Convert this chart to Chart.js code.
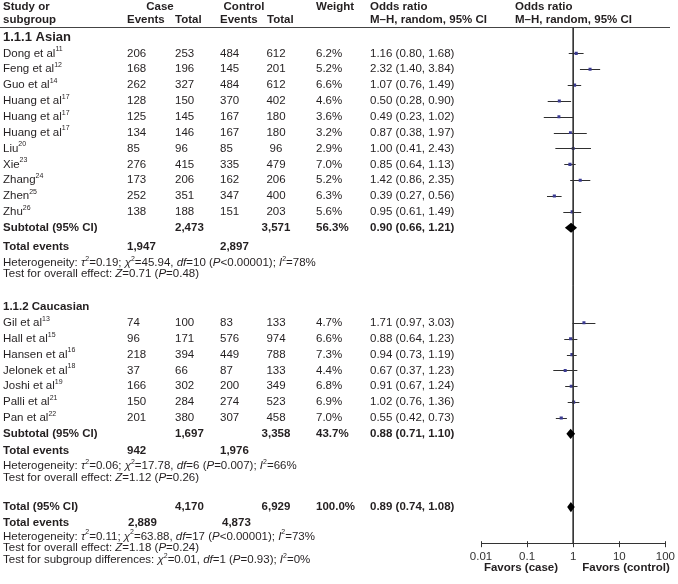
<!DOCTYPE html>
<html lang="en">
<head>
    <meta charset="UTF-8">
    <title>Forest plot: odds ratio by ethnic subgroup</title>
    <script src="https://cdn.jsdelivr.net/npm/chart.js"></script>
    <style>
        html, body { margin: 0; padding: 0; background: #fff; }
        canvas { display: block; }
    </style>
</head>
<body>
<canvas id="forest" width="678" height="584"></canvas>
<script>
    // ---- values ----
    const subgroupNames = ['1.1.1 Asian', '1.1.2 Caucasian'];

    const asianStudies = ['Dong et al^11^', 'Feng et al^12^', 'Guo et al^14^', 'Huang et al^17^', 'Huang et al^17^',
        'Huang et al^17^', 'Liu^20^', 'Xie^23^', 'Zhang^24^', 'Zhen^25^', 'Zhu^26^'];
    const asianCaseEvents = [206, 168, 262, 128, 125, 134, 85, 276, 173, 252, 138];
    const asianCaseTotal = [253, 196, 327, 150, 145, 146, 96, 415, 206, 351, 188];
    const asianCtrlEvents = [484, 145, 484, 370, 167, 167, 85, 335, 162, 347, 151];
    const asianCtrlTotal = [612, 201, 612, 402, 180, 180, 96, 479, 206, 400, 203];
    const asianWeight = [6.2, 5.2, 6.6, 4.6, 3.6, 3.2, 2.9, 7.0, 5.2, 6.3, 5.6];
    const asianOR = [1.16, 2.32, 1.07, 0.50, 0.49, 0.87, 1.00, 0.85, 1.42, 0.39, 0.95];
    const asianLow = [0.80, 1.40, 0.76, 0.28, 0.23, 0.38, 0.41, 0.64, 0.86, 0.27, 0.61];
    const asianHigh = [1.68, 3.84, 1.49, 0.90, 1.02, 1.97, 2.43, 1.13, 2.35, 0.56, 1.49];

    const caucStudies = ['Gil et al^13^', 'Hall et al^15^', 'Hansen et al^16^', 'Jelonek et al^18^', 'Joshi et al^19^',
        'Palli et al^21^', 'Pan et al^22^'];
    const caucCaseEvents = [74, 96, 218, 37, 166, 150, 201];
    const caucCaseTotal = [100, 171, 394, 66, 302, 284, 380];
    const caucCtrlEvents = [83, 576, 449, 87, 200, 274, 307];
    const caucCtrlTotal = [133, 974, 788, 133, 349, 523, 458];
    const caucWeight = [4.7, 6.6, 7.3, 4.4, 6.8, 6.9, 7.0];
    const caucOR = [1.71, 0.88, 0.94, 0.67, 0.91, 1.02, 0.55];
    const caucLow = [0.97, 0.64, 0.73, 0.37, 0.67, 0.76, 0.42];
    const caucHigh = [3.03, 1.23, 1.19, 1.23, 1.24, 1.36, 0.73];

    // subtotals: [Asian, Caucasian]
    const subtotalCaseTotal = [2473, 1697];
    const subtotalCtrlTotal = [3571, 3358];
    const subtotalWeight = [56.3, 43.7];
    const subtotalOR = [0.90, 0.88];
    const subtotalLow = [0.66, 0.71];
    const subtotalHigh = [1.21, 1.10];
    const subtotalCaseEvents = [1947, 942];
    const subtotalCtrlEvents = [2897, 1976];
    const subtotalHeterogeneity = [
        'Heterogeneity: _τ_^2^=0.19; _χ_^2^=45.94, _df_=10 (_P_<0.00001); _I_^2^=78%',
        'Heterogeneity: _τ_^2^=0.06; _χ_^2^=17.78, _df_=6 (_P_=0.007); _I_^2^=66%'
    ];
    const subtotalEffect = [
        'Test for overall effect: _Z_=0.71 (_P_=0.48)',
        'Test for overall effect: _Z_=1.12 (_P_=0.26)'
    ];

    // overall
    const totalCaseTotal = 4170;
    const totalCtrlTotal = 6929;
    const totalWeight = 100.0;
    const totalOR = 0.89;
    const totalLow = 0.74;
    const totalHigh = 1.08;
    const totalCaseEvents = 2889;
    const totalCtrlEvents = 4873;
    const totalHeterogeneity = 'Heterogeneity: _τ_^2^=0.11; _χ_^2^=63.88, _df_=17 (_P_<0.00001); _I_^2^=73%';
    const totalEffect = 'Test for overall effect: _Z_=1.18 (_P_=0.24)';
    const subgroupDiffText = 'Test for subgroup differences: _χ_^2^=0.01, _df_=1 (_P_=0.93); _I_^2^=0%';

    const axisTicks = [0.01, 0.1, 1, 10, 100];
    const axisTickLabels = ['0.01', '0.1', '1', '10', '100'];
    const favorsLabels = ['Favors (case)', 'Favors (control)'];

    // ---- layout ----
    const FONT = '"Liberation Sans", Arial, Helvetica, sans-serif';
    const TEXT = '#231f20';
    const BODY = 11.5;
    const Y_TOP = -1.6, Y_BOTTOM = 30.9;
    const COL = { study: 3, caseEv: 127, caseTot: 175, ctrlEv: 220, ctrlTot: 276, weight: 316, or: 370, plotHead: 515 };
    // row offsets below each subtotal: total events, heterogeneity, overall effect
    const FOOT = [[1.2, 2.22, 2.92], [1.08, 2.03, 2.75]];

    const fmtInt = v => v.toLocaleString('en-US');
    const fmtOR = (o, l, h) => `${o.toFixed(2)} (${l.toFixed(2)}, ${h.toFixed(2)})`;

    function buildGroup(i, startRow, names, ce, ct, de, dt, w, o, lo, hi) {
        const studies = names.map((n, k) => ({
            row: startRow + 1 + k, name: n, ce: ce[k], ct: ct[k], de: de[k], dt: dt[k],
            w: w[k], or: o[k], lo: lo[k], hi: hi[k]
        }));
        return {
            name: subgroupNames[i], headRow: startRow, studies: studies,
            subRow: startRow + 1 + names.length, i: i
        };
    }

    const groups = [
        buildGroup(0, -1, asianStudies, asianCaseEvents, asianCaseTotal, asianCtrlEvents, asianCtrlTotal,
            asianWeight, asianOR, asianLow, asianHigh),
        buildGroup(1, 16, caucStudies, caucCaseEvents, caucCaseTotal, caucCtrlEvents, caucCtrlTotal,
            caucWeight, caucOR, caucLow, caucHigh)
    ];
    const totalRow = 28.62;
    const allStudies = groups.flatMap(g => g.studies);

    // tiny markup: _italic_  ^superscript^
    function splitMarkup(s) {
        return s.split(/(_[^_]+_|\^[^^]+\^)/).filter(Boolean).map(p => {
            if (p[0] === '_') return { t: p.slice(1, -1), it: true };
            if (p[0] === '^') return { t: p.slice(1, -1), sup: true };
            return { t: p };
        });
    }

    function drawText(ctx, s, x, y, opts) {
        opts = opts || {};
        const size = opts.size || BODY;
        const parts = splitMarkup(String(s));
        const fontFor = p => `${p.it ? 'italic ' : ''}${opts.bold ? 'bold ' : ''}${p.sup ? Math.round(size * 0.64) : size}px ${FONT}`;
        let total = 0;
        parts.forEach(p => { ctx.font = fontFor(p); p.w = ctx.measureText(p.t).width; total += p.w; });
        let cx = opts.align === 'center' ? x - total / 2 : x;
        ctx.textBaseline = 'middle';
        ctx.textAlign = 'left';
        ctx.fillStyle = TEXT;
        parts.forEach(p => {
            ctx.font = fontFor(p);
            ctx.fillText(p.t, cx, p.sup ? y - size * 0.36 : y);
            cx += p.w;
        });
    }

    function diamond(ctx, x, y, row, o, lo, hi) {
        const py = y.getPixelForValue(row);
        const h = y.getPixelForValue(row + 0.32) - py;
        ctx.beginPath();
        ctx.moveTo(x.getPixelForValue(lo), py);
        ctx.lineTo(x.getPixelForValue(o), py - h);
        ctx.lineTo(x.getPixelForValue(hi), py);
        ctx.lineTo(x.getPixelForValue(o), py + h);
        ctx.closePath();
        ctx.fill();
    }

    const forestPlugin = {
        id: 'forest',
        beforeDatasetsDraw(chart) {
            const { ctx, scales: { x, y } } = chart;
            ctx.save();
            ctx.strokeStyle = '#2f2f2f';
            ctx.lineWidth = 1;
            allStudies.forEach(s => {
                const py = Math.round(y.getPixelForValue(s.row)) + 0.5;
                ctx.beginPath();
                ctx.moveTo(x.getPixelForValue(s.lo), py);
                ctx.lineTo(x.getPixelForValue(s.hi), py);
                ctx.stroke();
            });
            ctx.restore();
        },
        afterDatasetsDraw(chart) {
            const { ctx, scales: { x, y } } = chart;
            ctx.save();
            ctx.fillStyle = '#000';
            groups.forEach(g => diamond(ctx, x, y, g.subRow, subtotalOR[g.i], subtotalLow[g.i], subtotalHigh[g.i]));
            diamond(ctx, x, y, totalRow, totalOR, totalLow, totalHigh);
            ctx.restore();
        },
        afterDraw(chart) {
            const { ctx, chartArea, scales: { x, y } } = chart;
            ctx.save();

            // header rule
            ctx.strokeStyle = '#444';
            ctx.lineWidth = 1;
            ctx.beginPath();
            ctx.moveTo(0, chartArea.top - 0.5);
            ctx.lineTo(670, chartArea.top - 0.5);
            ctx.stroke();

            // ticks poke a little above the axis line
            ctx.strokeStyle = '#333';
            axisTicks.forEach(v => {
                const px = Math.round(x.getPixelForValue(v)) + 0.5;
                ctx.beginPath();
                ctx.moveTo(px, chartArea.bottom - 2);
                ctx.lineTo(px, chartArea.bottom);
                ctx.stroke();
            });

            // column headers
            const h1 = chartArea.top - 21, h2 = chartArea.top - 8;
            const B = { bold: true };
            drawText(ctx, 'Study or', COL.study, h1, B);
            drawText(ctx, 'subgroup', COL.study, h2, B);
            drawText(ctx, 'Case', 160, h1, { bold: true, align: 'center' });
            drawText(ctx, 'Control', 244, h1, { bold: true, align: 'center' });
            drawText(ctx, 'Events', COL.caseEv, h2, B);
            drawText(ctx, 'Total', COL.caseTot, h2, B);
            drawText(ctx, 'Events', COL.ctrlEv, h2, B);
            drawText(ctx, 'Total', 267, h2, B);
            drawText(ctx, 'Weight', COL.weight, h1, B);
            drawText(ctx, 'Odds ratio', COL.or, h1, B);
            drawText(ctx, 'M–H, random, 95% CI', COL.or, h2, B);
            drawText(ctx, 'Odds ratio', COL.plotHead, h1, B);
            drawText(ctx, 'M–H, random, 95% CI', COL.plotHead, h2, B);

            const py = r => y.getPixelForValue(r);

            groups.forEach(g => {
                drawText(ctx, g.name, COL.study, py(g.headRow), { bold: true, size: g.i === 0 ? 13 : 11.5 });
                g.studies.forEach(s => {
                    const yy = py(s.row);
                    drawText(ctx, s.name, COL.study, yy);
                    drawText(ctx, s.ce, COL.caseEv, yy);
                    drawText(ctx, s.ct, COL.caseTot, yy);
                    drawText(ctx, s.de, COL.ctrlEv, yy);
                    drawText(ctx, s.dt, COL.ctrlTot, yy, { align: 'center' });
                    drawText(ctx, s.w.toFixed(1) + '%', COL.weight, yy);
                    drawText(ctx, fmtOR(s.or, s.lo, s.hi), COL.or, yy);
                });
                const ys = py(g.subRow);
                const off = FOOT[g.i];
                drawText(ctx, 'Subtotal (95% CI)', COL.study, ys, B);
                drawText(ctx, fmtInt(subtotalCaseTotal[g.i]), COL.caseTot, ys, B);
                drawText(ctx, fmtInt(subtotalCtrlTotal[g.i]), COL.ctrlTot, ys, { bold: true, align: 'center' });
                drawText(ctx, subtotalWeight[g.i].toFixed(1) + '%', COL.weight, ys, B);
                drawText(ctx, fmtOR(subtotalOR[g.i], subtotalLow[g.i], subtotalHigh[g.i]), COL.or, ys, B);
                const ye = py(g.subRow + off[0]);
                drawText(ctx, 'Total events', COL.study, ye, B);
                drawText(ctx, fmtInt(subtotalCaseEvents[g.i]), COL.caseEv, ye, B);
                drawText(ctx, fmtInt(subtotalCtrlEvents[g.i]), COL.ctrlEv, ye, B);
                drawText(ctx, subtotalHeterogeneity[g.i], COL.study, py(g.subRow + off[1]));
                drawText(ctx, subtotalEffect[g.i], COL.study, py(g.subRow + off[2]));
            });

            const yt = py(totalRow);
            drawText(ctx, 'Total (95% CI)', COL.study, yt, B);
            drawText(ctx, fmtInt(totalCaseTotal), COL.caseTot, yt, B);
            drawText(ctx, fmtInt(totalCtrlTotal), COL.ctrlTot, yt, { bold: true, align: 'center' });
            drawText(ctx, totalWeight.toFixed(1) + '%', COL.weight, yt, B);
            drawText(ctx, fmtOR(totalOR, totalLow, totalHigh), COL.or, yt, B);
            const yte = py(totalRow + 0.98);
            drawText(ctx, 'Total events', COL.study, yte, B);
            drawText(ctx, fmtInt(totalCaseEvents), COL.caseEv + 1, yte, B);
            drawText(ctx, fmtInt(totalCtrlEvents), COL.ctrlEv + 2, yte, B);
            drawText(ctx, totalHeterogeneity, COL.study, py(totalRow + 1.85));
            drawText(ctx, totalEffect, COL.study, py(totalRow + 2.6));
            drawText(ctx, subgroupDiffText, COL.study, py(totalRow + 3.35));

            // favours labels under the axis
            drawText(ctx, favorsLabels[0], 521, chartArea.bottom + 25, { bold: true, align: 'center' });
            drawText(ctx, favorsLabels[1], 626, chartArea.bottom + 25, { bold: true, align: 'center' });

            ctx.restore();
        }
    };

    document.addEventListener('DOMContentLoaded', function() {
        const ctx = document.getElementById('forest').getContext('2d');

        new Chart(ctx, {
            type: 'scatter',
            data: {
                datasets: [
                    {
                        type: 'line',
                        data: [{ x: 1, y: Y_TOP }, { x: 1, y: Y_BOTTOM }],
                        borderColor: '#333',
                        borderWidth: 1,
                        pointRadius: 0
                    },
                    {
                        data: allStudies.map(s => ({ x: s.or, y: s.row })),
                        pointStyle: 'rect',
                        pointRadius: allStudies.map(s => 1.9 + s.w * 0.05),
                        backgroundColor: '#3b3b92',
                        borderWidth: 0
                    }
                ]
            },
            options: {
                responsive: false,
                animation: false,
                events: [],
                layout: { padding: { left: 481, right: 10, top: 28, bottom: 17 } },
                plugins: {
                    legend: { display: false },
                    tooltip: { enabled: false }
                },
                scales: {
                    x: {
                        type: 'logarithmic',
                        min: 0.01,
                        max: 100,
                        afterBuildTicks: scale => { scale.ticks = axisTicks.map(v => ({ value: v })); },
                        ticks: {
                            autoSkip: false,
                            maxRotation: 0,
                            padding: 3,
                            color: '#333',
                            font: { family: FONT, size: 11.5 },
                            callback: value => axisTickLabels[axisTicks.indexOf(value)]
                        },
                        grid: { drawOnChartArea: false, tickLength: 4, color: '#333' },
                        border: { color: '#333' }
                    },
                    y: {
                        display: false,
                        reverse: true,
                        min: Y_TOP,
                        max: Y_BOTTOM
                    }
                }
            },
            plugins: [forestPlugin]
        });
    });
</script>
</body>
</html>
